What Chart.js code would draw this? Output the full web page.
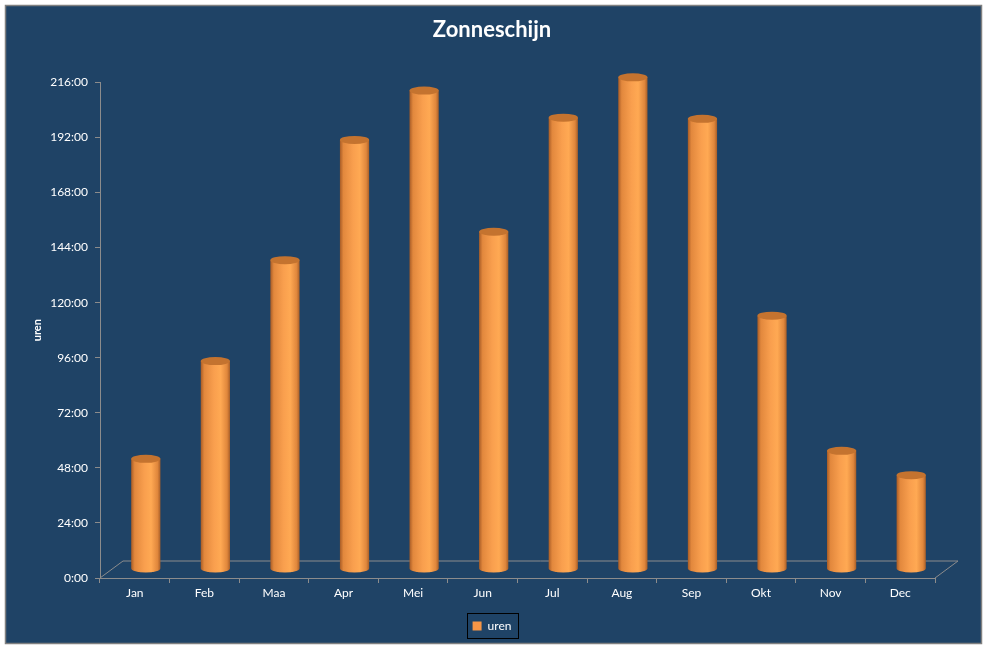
<!DOCTYPE html>
<html>
<head>
<meta charset="utf-8">
<title>Zonneschijn</title>
<script src="https://cdn.jsdelivr.net/npm/chart.js@4.4.0/dist/chart.umd.min.js"></script>
<style>
  html, body { margin: 0; padding: 0; background: #ffffff; }
  #wrap { width: 987px; height: 648px; }
</style>
</head>
<body>
<div id="wrap"><canvas id="zonChart"></canvas></div>
<script>
// Gegevens
const maanden = ['Jan', 'Feb', 'Maa', 'Apr', 'Mei', 'Jun', 'Jul', 'Aug', 'Sep', 'Okt', 'Nov', 'Dec'];
const uren = [48.0, 90.6, 134.6, 187.0, 208.5, 147.0, 196.7, 214.3, 196.2, 110.4, 51.5, 40.9];
const urenTicks = ['0:00', '24:00', '48:00', '72:00', '96:00', '120:00', '144:00', '168:00', '192:00', '216:00'];

Chart.defaults.font.family = "Lato, 'Open Sans', sans-serif";

// Achtergrond en rand
const achtergrond = {
    id: 'achtergrond',
    beforeDraw(chart) {
        const c = chart.ctx;
        c.save();
        c.fillStyle = '#ffffff';
        c.fillRect(0, 0, chart.width, chart.height);
        c.fillStyle = '#1f4366';
        c.fillRect(5, 5, 977, 639);
        c.strokeStyle = '#808080';
        c.lineWidth = 1.5;
        c.strokeRect(5.5, 5.5, 976, 638);
        c.restore();
    }
};

// 3D vloer en cilinders
const cilinders = {
    id: 'cilinders',
    beforeDatasetDraw(chart, args) {
        const c = chart.ctx, area = chart.chartArea;
        const dx = 11, dy = -9, diepX = 23, diepY = 17;
        c.save();
        c.strokeStyle = '#8c8c8c';
        c.lineWidth = 1;
        c.beginPath();
        c.moveTo(area.left, area.bottom);
        c.lineTo(area.left + diepX, area.bottom - diepY);
        c.lineTo(area.right + diepX, area.bottom - diepY);
        c.lineTo(area.right, area.bottom);
        c.stroke();

        args.meta.data.forEach(bar => {
            const p = bar.getProps(['x', 'y', 'base', 'width'], true);
            const cx = p.x + dx;
            const rx = p.width / 2, ry = 4;
            const x0 = cx - rx, x1 = cx + rx;
            const top = p.y + dy, bot = p.base + dy;

            const g = c.createLinearGradient(x0, 0, x1, 0);
            g.addColorStop(0, '#a85c26');
            g.addColorStop(0.12, '#e2883d');
            g.addColorStop(0.45, '#f99f4e');
            g.addColorStop(0.68, '#ffa953');
            g.addColorStop(0.9, '#e0873c');
            g.addColorStop(1, '#a95f28');
            c.fillStyle = g;
            c.beginPath();
            c.moveTo(x0, top);
            c.lineTo(x0, bot);
            c.ellipse(cx, bot, rx, ry, 0, Math.PI, 0, true);
            c.lineTo(x1, top);
            c.closePath();
            c.fill();

            c.fillStyle = '#c4732f';
            c.beginPath();
            c.ellipse(cx, top, rx, ry, 0, 0, Math.PI * 2);
            c.fill();
        });
        c.restore();
        return false;
    }
};

// Kader om de legenda
const legendaKader = {
    id: 'legendaKader',
    afterDraw(chart) {
        const box = chart.legend.legendHitBoxes[0];
        if (!box) return;
        const c = chart.ctx;
        c.save();
        c.strokeStyle = '#000000';
        c.lineWidth = 1;
        c.strokeRect(Math.round(box.left - 6) + 0.5, Math.round(box.top - 7) + 0.5,
            Math.round(box.width + 12), Math.round(box.height + 13));
        c.restore();
    }
};

const ctx = document.getElementById('zonChart').getContext('2d');
new Chart(ctx, {
    type: 'bar',
    data: {
        labels: maanden,
        datasets: [{
            label: 'uren',
            data: uren,
            backgroundColor: '#f79646',
            borderWidth: 0,
            categoryPercentage: 1,
            barPercentage: 0.42
        }]
    },
    options: {
        responsive: true,
        maintainAspectRatio: false,
        animation: false,
        layout: { padding: { left: 27, right: 30, top: 7, bottom: 6 } },
        plugins: {
            title: {
                display: true,
                text: 'Zonneschijn',
                color: '#ffffff',
                font: { size: 22, weight: 'bold' },
                padding: { top: 10, bottom: 39 }
            },
            legend: {
                position: 'bottom',
                labels: {
                    color: '#ffffff',
                    boxWidth: 9,
                    boxHeight: 9,
                    padding: 12,
                    font: { size: 12 }
                }
            },
            tooltip: { enabled: false }
        },
        scales: {
            x: {
                afterFit: s => { s.height = 30; },
                grid: { display: true, drawOnChartArea: false, color: '#8c8c8c', tickLength: 5 },
                border: { display: true, color: '#8c8c8c' },
                ticks: { color: '#ffffff', font: { size: 12 }, padding: 3 }
            },
            y: {
                min: 0,
                max: 216,
                afterFit: s => { s.width = 73; },
                title: { display: true, text: 'uren', color: '#ffffff', font: { size: 11, weight: 'bold' } },
                grid: { display: true, drawOnChartArea: false, color: '#8c8c8c', tickLength: 5 },
                border: { display: true, color: '#8c8c8c' },
                ticks: {
                    stepSize: 24,
                    color: '#ffffff',
                    font: { size: 12 },
                    padding: 7,
                    callback: (v, i) => urenTicks[i]
                }
            },
            ruimte: {
                position: 'right',
                min: 0,
                max: 216,
                afterFit: s => { s.width = 22; },
                grid: { display: false },
                border: { display: false },
                ticks: { display: false }
            }
        }
    },
    plugins: [achtergrond, cilinders, legendaKader]
});
</script>
</body>
</html>
